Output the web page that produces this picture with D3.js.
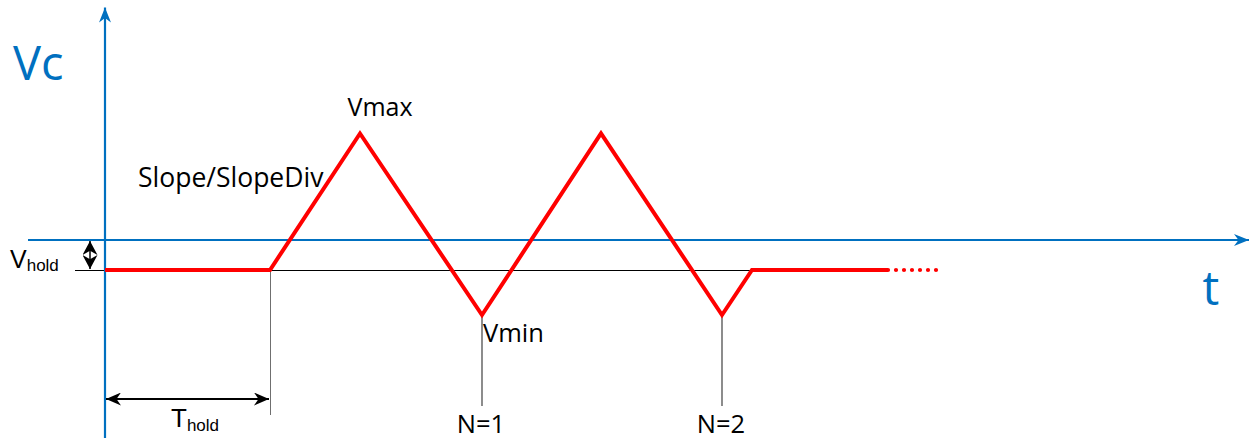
<!DOCTYPE html>
<html>
<head>
<meta charset="utf-8">
<script src="https://cdn.jsdelivr.net/npm/d3@7"></script>
<style>
  html, body { margin: 0; padding: 0; background: #fff; }
  svg { display: block; }
</style>
</head>
<body>
<svg id="chart" width="1250" height="439"></svg>
<script>
// ---- data (time units, voltage units relative to the t-axis) ----
const waveT = [0, 16.5, 25.5, 37.7, 49.6, 61.7, 64.7, 78.3];
const waveV = [-1, -1, 3.55, -2.5, 3.55, -2.5, -1, -1];
const continueT = [78.3, 83.4];
const holdLevel = -1;
const holdEndT = 16.5;
const cycleMinT = [37.7, 61.7];
const cycleLabels = ["N=1", "N=2"];
const axisTRange = [-7.7, 114.4];
const axisVRange = [-6.6, 7.75];

const W = 1250, H = 439;
const svg = d3.select("#chart");

const x = d3.scaleLinear().domain([0, 100]).range([105, 1105]);
const y = d3.scaleLinear().domain([0, 1]).range([240, 210]);

const BLUE = "#0070C0", RED = "#FF0000";

// markers
const defs = svg.append("defs");
function stealth(id, color, len, wid) {
  defs.append("marker")
    .attr("id", id)
    .attr("markerUnits", "userSpaceOnUse")
    .attr("viewBox", `0 0 ${len} ${wid}`)
    .attr("markerWidth", len).attr("markerHeight", wid)
    .attr("refX", len).attr("refY", wid / 2)
    .attr("orient", "auto-start-reverse")
    .append("path")
    .attr("d", `M0,0 L${len},${wid/2} L0,${wid} L${len*0.3},${wid/2} Z`)
    .attr("fill", color);
}
stealth("arrBlue", BLUE, 15, 12);
stealth("arrBlack", "#000", 15, 13);
stealth("arrSmall", "#000", 14, 15);

// hold reference line (thin black)
svg.append("line")
  .attr("x1", 75).attr("x2", x(waveT[6]))
  .attr("y1", y(holdLevel) + 0.5).attr("y2", y(holdLevel) + 0.5)
  .attr("stroke", "#000").attr("stroke-width", 1)
  .attr("shape-rendering", "crispEdges");

// drop lines
svg.append("line")
  .attr("x1", x(holdEndT) + 0.5).attr("x2", x(holdEndT) + 0.5)
  .attr("y1", y(holdLevel)).attr("y2", 415)
  .attr("stroke", "#6f6f6f").attr("stroke-width", 1)
  .attr("shape-rendering", "crispEdges");
cycleMinT.forEach(t => {
  const i = waveT.indexOf(t);
  svg.append("line")
    .attr("x1", x(t)).attr("x2", x(t))
    .attr("y1", y(waveV[i])).attr("y2", 406)
    .attr("stroke", "#404040").attr("stroke-width", 1.2);
});

// axes
svg.append("line")
  .attr("x1", x(axisTRange[0])).attr("x2", x(axisTRange[1]))
  .attr("y1", y(0)).attr("y2", y(0))
  .attr("stroke", BLUE).attr("stroke-width", 2.2)
  .attr("marker-end", "url(#arrBlue)");
svg.append("line")
  .attr("x1", x(0)).attr("x2", x(0))
  .attr("y1", y(axisVRange[0])).attr("y2", y(axisVRange[1]))
  .attr("stroke", BLUE).attr("stroke-width", 2.2)
  .attr("marker-end", "url(#arrBlue)");

// waveform
const pts = waveT.map((t, i) => [t, waveV[i]]);
const line = d3.line().x(d => x(d[0])).y(d => y(d[1]));
svg.append("path")
  .attr("d", line(pts))
  .attr("fill", "none").attr("stroke", RED)
  .attr("stroke-width", 4).attr("stroke-linejoin", "miter");
svg.append("path")
  .attr("d", line(continueT.map(t => [t, holdLevel])))
  .attr("fill", "none").attr("stroke", RED)
  .attr("stroke-width", 4.2).attr("stroke-linecap", "round")
  .attr("stroke-dasharray", "0 8").attr("stroke-dashoffset", -8);

// T_hold arrow
svg.append("line")
  .attr("x1", x(0) + 1).attr("x2", x(holdEndT) - 1)
  .attr("y1", 399).attr("y2", 399)
  .attr("stroke", "#000").attr("stroke-width", 2)
  .attr("marker-start", "url(#arrBlack)")
  .attr("marker-end", "url(#arrBlack)");

// V_hold arrow
svg.append("line")
  .attr("x1", 90).attr("x2", 90)
  .attr("y1", y(0) + 1).attr("y2", y(holdLevel) - 1)
  .attr("stroke", "#000").attr("stroke-width", 1.5)
  .attr("marker-start", "url(#arrSmall)")
  .attr("marker-end", "url(#arrSmall)");

// texts
const calib = "'Open Sans', 'Noto Sans', sans-serif";
const arial = "'Liberation Sans', Arial, sans-serif";

svg.append("text").text("Vc")
  .attr("x", 13).attr("y", 80)
  .attr("font-family", calib).attr("font-size", 47).attr("fill", BLUE);
svg.append("text").text("t")
  .attr("x", 1211).attr("y", 305).attr("text-anchor", "middle")
  .attr("font-family", calib).attr("font-size", 47).attr("fill", BLUE);

const vmaxI = waveV.indexOf(d3.max(waveV));
svg.append("text").text("Vmax")
  .attr("x", x(waveT[vmaxI]) + 20).attr("y", 116).attr("text-anchor", "middle")
  .attr("font-family", calib).attr("font-size", 25).attr("fill", "#000");
svg.append("text").text("Slope/SlopeDiv")
  .attr("x", 138).attr("y", 187)
  .attr("font-family", calib).attr("font-size", 26.5).attr("fill", "#000");
svg.append("text").text("Vmin")
  .attr("x", x(cycleMinT[0]) + 1).attr("y", 342)
  .attr("font-family", calib).attr("font-size", 25.5).attr("fill", "#000");
cycleMinT.forEach((t, i) => {
  svg.append("text").text(cycleLabels[i])
    .attr("x", x(t) - 1).attr("y", 433).attr("text-anchor", "middle")
    .attr("font-family", calib).attr("font-size", 25.5).attr("fill", "#000");
});

const vh = svg.append("text").attr("x", 10).attr("y", 268)
  .attr("font-family", arial).attr("fill", "#000");
vh.append("tspan").text("V").attr("font-size", 25);
vh.append("tspan").text("hold").attr("font-size", 17).attr("dy", 3);

const th = svg.append("text").attr("x", 171).attr("y", 427)
  .attr("font-family", arial).attr("fill", "#000");
th.append("tspan").text("T").attr("font-size", 26);
th.append("tspan").text("hold").attr("font-size", 17).attr("dy", 4);
</script>
</body>
</html>
